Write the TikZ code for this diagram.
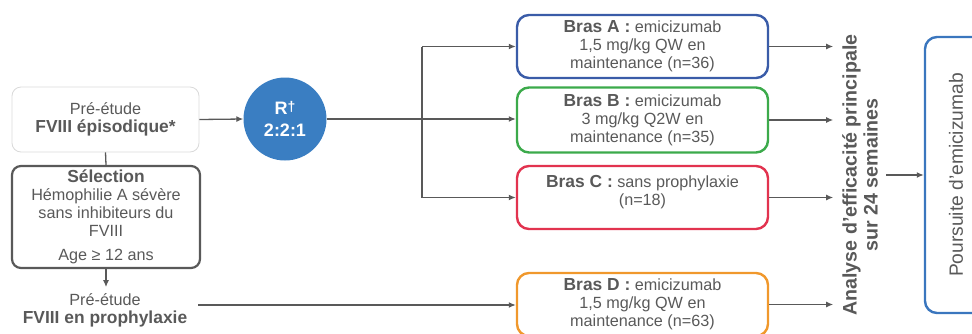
\documentclass[tikz,border=0pt]{standalone}
\usepackage{fontspec}
\setmainfont{Liberation Sans}
\usetikzlibrary{arrows.meta}
\definecolor{txt}{HTML}{595959}
\definecolor{lightframe}{HTML}{D9D9D9}
\definecolor{randblue}{HTML}{3A7EC2}
\definecolor{armA}{HTML}{3A5CA8}
\definecolor{armB}{HTML}{3CAA4B}
\definecolor{armC}{HTML}{E2334F}
\definecolor{armD}{HTML}{F0982C}
\definecolor{contblue}{HTML}{3A76BE}
% bold run-in text, set a little larger than the body text
\newcommand\bt[1]{{\fontsize{17.4}{18}\selectfont\bfseries #1}}
\begin{document}
\begin{tikzpicture}[x=1pt,y=-1pt,
  every node/.style={text=txt, font=\fontsize{16.2}{18}\selectfont, inner sep=0pt},
  link/.style={draw=txt, line width=1.3pt},
  arr/.style={link, -{Latex[length=7pt,width=6pt]}},
  prebox/.style={draw=lightframe, line width=0.8pt, rounded corners=9pt, align=center,
    minimum width=187pt, minimum height=65pt},
  selbox/.style={draw=txt, line width=2.2pt, rounded corners=9pt, align=center,
    minimum width=188pt, minimum height=102pt},
  armbox/.style={line width=2.4pt, rounded corners=12pt, align=center,
    minimum width=251pt, minimum height=63pt},
  randcircle/.style={circle, fill=randblue, minimum size=83pt, text=white,
    font=\bfseries\fontsize{18}{22}\selectfont, align=center}
]
\useasboundingbox (0,0) rectangle (972,333);

% screening and pre-study groups
\node[prebox] (pre1) at (105.5,119.5) {Pré-étude\\\bt{FVIII épisodique*}};
\node[selbox] (sel) at (106,217) {\bt{Sélection}\\Hémophilie A sévère\\sans inhibiteurs du\\FVIII\\[6pt]Age ≥ 12 ans};
\node[align=center] (pre2) at (105,310) {Pré-étude\\\bt{FVIII en prophylaxie}};

% randomisation
\node[randcircle] (rand) at (285,119) {R{\fontsize{14}{14}\selectfont\raisebox{2.5pt}{†}}\\2:2:1};

% treatment arms
\node[armbox, draw=armA] (A) at (642.5,46.5) {\bt{Bras A :} emicizumab\\1,5 mg/kg QW en\\maintenance (n=36)};
\node[armbox, draw=armB, minimum height=65pt] (B) at (642.5,120) {\bt{Bras B :} emicizumab\\3 mg/kg Q2W en\\maintenance (n=35)};
\node[armbox, draw=armC] (C) at (642.5,197.5) {\bt{Bras C :} sans prophylaxie\\(n=18)\\[-4pt]\mbox{}};
\node[armbox, draw=armD] (D) at (642.5,304.5) {\bt{Bras D :} emicizumab\\1,5 mg/kg QW en\\maintenance (n=63)};

% primary analysis and continuation
\node[rotate=90, align=center, font=\bfseries\fontsize{19.6}{21}\selectfont] (ana) at (860,175)
  {Analyse d'efficacité principale\\sur 24 semaines};
\node[rotate=90, draw=contblue, line width=2.4pt, rounded corners=12pt,
  minimum width=276pt, minimum height=62pt, font=\fontsize{19.2}{21}\selectfont] (cont) at (956,175)
  {Poursuite d'emicizumab};

% connectors
\draw[link] (pre1.south) -- (sel.north);
\draw[arr] (sel.south) -- ++(0,18) coordinate (selend);
\draw[arr] (pre1.east) -- (rand.west);
\coordinate (split) at (422,119);
\coordinate (splitA) at (422,46.5);
\coordinate (splitC) at (422,197.5);
\draw[link] (rand.east) -- (split);
\draw[link] (splitA) -- (splitC);
\draw[arr] (splitA) -- (A.west);
\draw[arr] (split) -- (B.west |- split);
\draw[arr] (splitC) -- (C.west);
\coordinate (preDstart) at (198,305);
\draw[arr] (preDstart) -- (D.west |- preDstart);

\foreach \arm in {A,B,C,D}{
  \draw[arr] (\arm.east) -- ++(64,0);
}
\coordinate (anaout) at (886,175);
\draw[arr] (anaout) -- (cont.north);
\end{tikzpicture}
\end{document}
